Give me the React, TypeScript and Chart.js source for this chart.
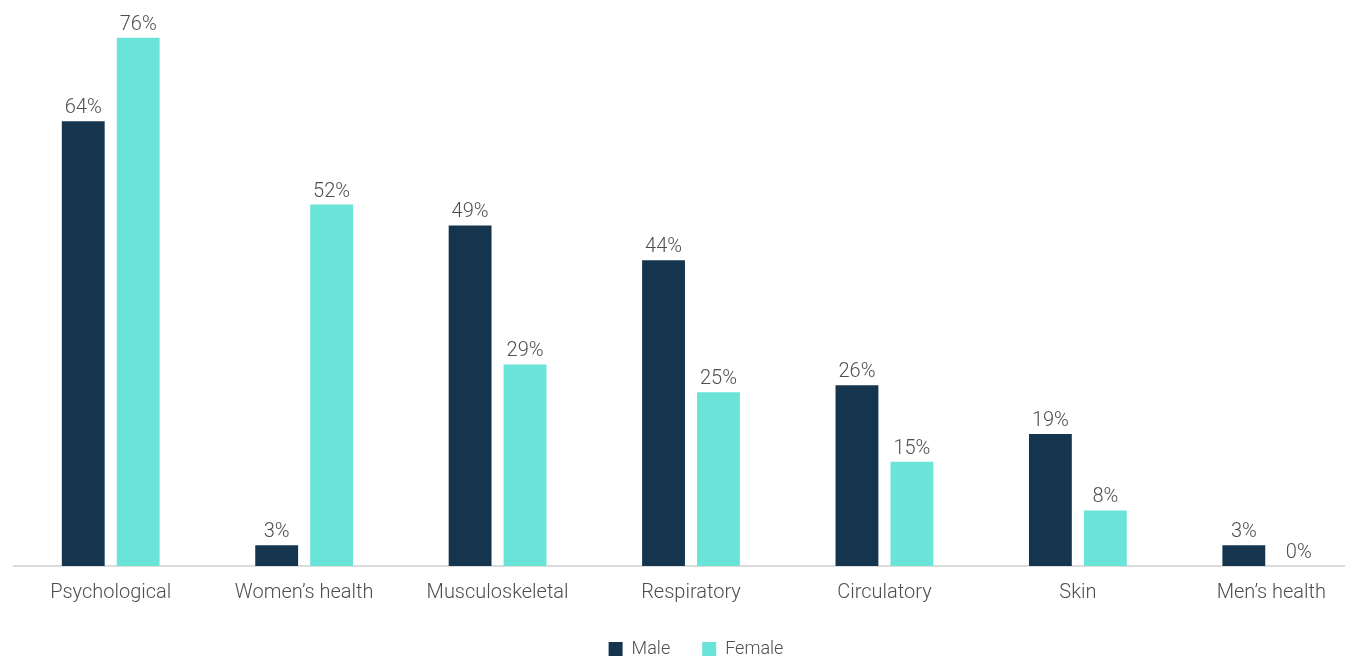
import React, { useEffect, useRef } from "react";
import { Chart, registerables } from "chart.js";

Chart.register(...registerables);

const categories = [
  "Psychological",
  "Women\u2019s health",
  "Musculoskeletal",
  "Respiratory",
  "Circulatory",
  "Skin",
  "Men\u2019s health",
];
const maleValues = [64, 3, 49, 44, 26, 19, 3];
const femaleValues = [76, 52, 29, 25, 15, 8, 0];

const MALE_COLOR = "#14354d";
const FEMALE_COLOR = "#6ae4d8";
const TEXT_COLOR = "#4e4e4e";
const FONT = "Roboto";

// Percentage labels drawn above every bar
const valueLabels = {
  id: "valueLabels",
  afterDatasetsDraw(chart: any) {
    const { ctx } = chart;
    ctx.save();
    ctx.font = `300 20px ${FONT}`;
    ctx.fillStyle = TEXT_COLOR;
    ctx.textAlign = "center";
    ctx.textBaseline = "alphabetic";
    chart.data.datasets.forEach((ds: any, i: number) => {
      const meta = chart.getDatasetMeta(i);
      meta.data.forEach((bar: any, j: number) => {
        ctx.fillText(`${ds.data[j]}%`, bar.x, bar.y - 8);
      });
    });
    ctx.restore();
  },
};

// Nudge the legend slightly to the right of the canvas centre
const legendShift = {
  id: "legendShift",
  afterLayout(chart: any) {
    if (chart.legend) {
      chart.legend.left += 5;
      chart.legend.right += 5;
    }
  },
};

export default function App() {
  const canvasRef = useRef<HTMLCanvasElement | null>(null);

  useEffect(() => {
    if (!canvasRef.current) return;
    const chart = new Chart(canvasRef.current, {
      type: "bar",
      data: {
        labels: categories,
        datasets: [
          {
            label: "Male",
            data: maleValues,
            backgroundColor: MALE_COLOR,
            categoryPercentage: 0.568,
            barPercentage: 0.78,
          },
          {
            label: "Female",
            data: femaleValues,
            backgroundColor: FEMALE_COLOR,
            categoryPercentage: 0.568,
            barPercentage: 0.78,
          },
        ],
      },
      options: {
        animation: false,
        responsive: true,
        maintainAspectRatio: false,
        layout: { padding: { left: 6, right: 0, top: 2, bottom: 0 } },
        plugins: {
          tooltip: { enabled: false },
          legend: {
            position: "bottom",
            maxHeight: 53,
            labels: {
              boxWidth: 14,
              boxHeight: 14,
              padding: 32,
              color: TEXT_COLOR,
              font: { family: FONT, size: 18, weight: "300" },
            },
          },
        },
        scales: {
          x: {
            grid: { display: false, drawTicks: false },
            border: { display: true, color: "#dcdcdc", width: 2 },
            ticks: {
              color: TEXT_COLOR,
              padding: 15,
              font: { family: FONT, size: 20, weight: "300" },
            },
            afterFit(scale: any) {
              scale.height -= 12;
            },
          },
          y: {
            display: false,
            min: 0,
            max: 80,
          },
        },
      },
      plugins: [valueLabels, legendShift],
    });
    return () => chart.destroy();
  }, []);

  return (
    <div style={{ width: "100%", height: 650, overflow: "hidden" }}>
      <div style={{ width: 1360, height: 653, position: "relative" }}>
        <canvas ref={canvasRef} />
      </div>
    </div>
  );
}
